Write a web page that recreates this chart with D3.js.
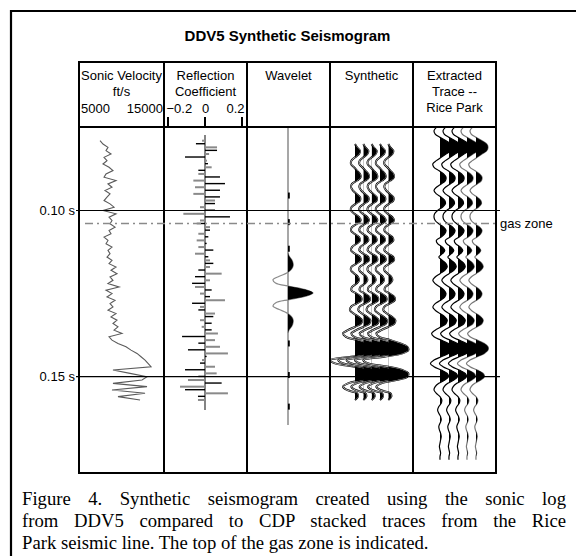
<!DOCTYPE html>
<html>
<head>
<meta charset="utf-8">
<title>DDV5 Synthetic Seismogram</title>
<script src="https://cdn.jsdelivr.net/npm/d3@7/dist/d3.min.js"></script>
<style>
  body { margin: 0; background: #fff; }
  text { font-family: Arial, "Liberation Sans", sans-serif; fill: #000; }
  .caption { font-family: "Times New Roman", "Liberation Serif", serif; }
</style>
</head>
<body>
<svg width="576" height="556"></svg>
<script>
// ---- data ----
const headers = [
  ['Sonic Velocity', 'ft/s'],
  ['Reflection', 'Coefficient'],
  ['Wavelet'],
  ['Synthetic'],
  ['Extracted', 'Trace --', 'Rice Park']
];
const velTicks = [5000, 15000];
const rcTicks = [-0.2, 0, 0.2];
const timeTicks = [100, 150];          // ms
const timeLabels = ['0.10 s', '0.15 s'];
const gasZoneMs = 103.9;

// sonic velocity (ft/s), one sample per ms from 79 ms
const velStart = 79;
const velocity = [7320, 7680, 8290, 8050, 8660, 7810, 8170, 7680, 8420, 8900,
  8050, 7810, 9270, 8290, 8780, 7930, 8540, 8170, 7810, 8540,
  9030, 7680, 9270, 8420, 8780, 8540, 9150, 8420, 8660, 7810,
  8290, 8050, 8780, 8290, 8540, 8170, 8780, 8420, 9270, 8660,
  9390, 8540, 8900, 8290, 9640, 8050, 8780, 8170, 9150, 8540,
  8900, 8290, 9270, 8660, 9390, 8900, 9510, 9030, 10000, 8420,
  8780, 9510, 10490, 11100, 11830, 12320, 12810, 13170, 13540, 8900,
  10980, 13050, 12440, 8900, 13050, 8780, 12810, 9510, 12200];

// reflection coefficients, one per ms from 79 ms
const rcStart = 79;
const rc = [-0.016, -0.049, 0.065, 0.065, 0.022, -0.108, 0.011, 0.016, 0.036, -0.036,
  -0.036, 0.081, -0.063, 0.108, -0.054, 0.081, -0.063, 0.081, 0.054, 0.054,
  -0.027, 0.054, -0.117, 0.135, -0.027, -0.045, 0.027, 0.027, -0.036, 0.018,
  -0.045, 0.009, -0.036, 0.045, -0.054, 0.018, 0.027, 0.045, 0.027, -0.036,
  0.09, -0.054, 0.027, -0.07, -0.054, 0.036, -0.027, 0.027, 0.108, -0.07,
  -0.027, -0.036, 0.054, 0.045, -0.027, 0.036, -0.018, 0.036, 0.07, -0.124,
  0.054, -0.036, 0.081, -0.092, 0.124, 0.009, -0.016, -0.027, 0.054, -0.108,
  0.063, -0.036, -0.092, 0.09, -0.135, -0.108, 0.124, -0.038, -0.038];

// wavelet, one per ms, centred on wavCentre
const wavCentre = 124.8;
const wavStart = -12;
const wavelet = [0, 0.05, 0.15, 0.2, 0.2, 0.12, -0.05, -0.35, -0.6, -0.5, 0.05, 0.7, 1,
  0.7, 0.05, -0.5, -0.6, -0.35, -0.05, 0.12, 0.2, 0.2, 0.15, 0.05, 0];
// tiny positive ripples of the wavelet tail (ms)
const wavTailMs = [95.5, 103.5, 111.5, 140, 149.5, 159];

// synthetic trace, one per ms from 80 ms
const synStart = 80;
const synthetic = [0, 0.1, 0.25, 0.2, 0, -0.18, -0.2, -0.05, 0.1, 0.25,
  0.28, 0.1, -0.15, -0.2, -0.1, 0.08, 0.25, 0.25, 0.03, -0.18,
  -0.2, -0.03, 0.2, 0.28, 0.1, -0.15, -0.2, -0.03, 0.2, 0.25,
  0.07, -0.15, -0.2, 0, 0.25, 0.28, 0.07, -0.18, -0.2, -0.03,
  0.15, 0.2, 0.07, -0.15, -0.18, 0.07, 0.3, 0.32, 0.07, -0.2,
  -0.25, -0.07, 0.18, 0.35, 0.3, 0, -0.35, -0.6, -0.45, 0.1,
  0.6, 0.95, 1.0, 0.7, -0.2, -1.25, -1.0, 0, 0.7, 1.0,
  0.95, 0.4, -0.35, -0.6, -0.4, 0.1, 0.15, 0];

// extracted trace (Rice Park), one per ms from 75 ms
const extStart = 75;
const extracted = [-0.3, -0.5, -0.4, 0, 0.5, 0.9, 1.0, 0.9, 0.5, 0.1,
  -0.3, -0.6, -0.5, -0.1, 0.3, 0.5, 0.45, 0.1, -0.3, -0.5,
  -0.3, 0.1, 0.4, 0.45, 0.2, -0.2, -0.45, -0.5, -0.4, -0.1,
  0.3, 0.5, 0.4, 0.1, -0.3, -0.2, 0.2, 0.4, 0.2, -0.1,
  0.2, 0.5, 0.6, 0.4, 0, -0.4, -0.6, -0.4, 0, 0.35,
  0.5, 0.4, 0.05, -0.4, -0.6, -0.4, 0, 0.4, 0.6, 0.5,
  0.1, -0.4, -0.7, -0.5, 0.1, 0.7, 1.0, 1.0, 0.7, 0.1,
  -0.5, -0.8, -0.5, 0.1, 0.6, 0.7, 0.4, -0.1, -0.4, -0.5,
  -0.3, 0, 0.15, 0.1, -0.1, -0.2, -0.1, 0.05, 0.1, 0,
  -0.1, -0.05, 0.05, 0.1, 0.05, 0, -0.05, 0, 0.05, 0, 0];

const captionLines = [
  'Figure 4. Synthetic seismogram created using the sonic log',
  'from DDV5 compared to CDP stacked traces from the Rice',
  'Park seismic line. The top of the gas zone is indicated.'
];

// ---- layout ----
const colEdges = [79, 164, 247, 330, 413, 496];
const tableTop = 62, headBottom = 127, tableBottom = 473;

const svg = d3.select('svg');
svg.append('rect').attr('width', 576).attr('height', 556).attr('fill', 'white');

// outer frame
svg.append('path')
  .attr('d', 'M11,560 L11,11 L580,11')
  .attr('fill', 'none').attr('stroke', 'black').attr('stroke-width', 2.2);

svg.append('text')
  .attr('x', 287.5).attr('y', 41)
  .attr('text-anchor', 'middle')
  .style('font-size', '15px').style('font-weight', 'bold')
  .text('DDV5 Synthetic Seismogram');

const y = d3.scaleLinear().domain([100, 150]).range([210.5, 376.7]);
const vx = d3.scaleLinear().domain([5000, 15000]).range([81, 163]);
const rx = d3.scaleLinear().domain([-0.2, 0.2]).range([168, 242]);
const wAmp = d3.scaleLinear().domain([0, 1]).range([0, 25]);
const sAmp = d3.scaleLinear().domain([0, 1]).range([0, 20]);
const eAmp = d3.scaleLinear().domain([0, 1]).range([0, 12]);

// header text
headers.forEach((lines, c) => {
  const cx = (colEdges[c] + colEdges[c + 1]) / 2;
  lines.forEach((s, k) => {
    svg.append('text')
      .attr('x', cx).attr('y', 80 + k * 16)
      .attr('text-anchor', 'middle')
      .style('font-size', '13px')
      .text(s);
  });
});

// velocity scale labels
svg.append('text').attr('x', vx(velTicks[0])).attr('y', 113)
  .style('font-size', '13px').text(velTicks[0]);
svg.append('text').attr('x', vx(velTicks[1])).attr('y', 113)
  .attr('text-anchor', 'end').style('font-size', '13px').text(velTicks[1]);

// rc axis
const rcAxis = d3.axisBottom(rx).tickValues(rcTicks).tickSize(0)
  .tickFormat(d => d === 0 ? '0' : d3.format('.1f')(d));
const rcAxisG = svg.append('g').attr('transform', 'translate(0,113)').call(rcAxis);
rcAxisG.select('.domain').remove();
rcAxisG.selectAll('text').attr('dy', 0).attr('y', 0).style('font-size', '13px')
  .style('font-family', 'Arial, "Liberation Sans", sans-serif')
  .attr('text-anchor', (d, i) => i === 0 ? 'start' : (i === 2 ? 'end' : 'middle'))
  .attr('dx', (d, i) => i === 0 ? -2 : (i === 2 ? 2 : 0));
svg.selectAll('.rctick').data(rcTicks).join('line')
  .attr('x1', d => rx(d)).attr('x2', d => rx(d))
  .attr('y1', 117).attr('y2', headBottom)
  .attr('stroke', 'black').attr('stroke-width', 2);

// ---- sonic velocity log ----
const velPts = velocity.map((v, i) => [vx(v), y(velStart + i)]);
svg.append('path')
  .attr('d', d3.line()(velPts))
  .attr('fill', 'none').attr('stroke', '#5a5a5a').attr('stroke-width', 1.1);

// ---- reflection coefficients ----
svg.append('line')
  .attr('x1', rx(0)).attr('x2', rx(0))
  .attr('y1', 135).attr('y2', 410)
  .attr('stroke', '#333').attr('stroke-width', 1.2);
svg.selectAll('.rcbar').data(rc).join('rect')
  .attr('x', d => Math.min(rx(0), rx(d)))
  .attr('width', d => Math.abs(rx(d) - rx(0)))
  .attr('y', (d, i) => y(rcStart + i) - 1)
  .attr('height', (d, i) => i % 2 ? 1.4 : 2)
  .attr('fill', (d, i) => i % 2 ? '#000' : '#8a8a8a');

// ---- traces ----
function drawTrace(values, startMs, base, amp, color, id, halo) {
  const pts = values.map((v, i) => [base + amp(v), y(startMs + i)]);
  const g = svg.append('g');
  g.append('clipPath').attr('id', id).append('rect')
    .attr('x', base).attr('y', 0).attr('width', 140).attr('height', 556);
  const line = d3.line().curve(d3.curveCatmullRom);
  const area = d3.area().y(d => d[1]).x0(base).x1(d => d[0]).curve(d3.curveCatmullRom);
  if (halo) {
    g.append('path').attr('d', line(pts)).attr('fill', 'none')
      .attr('stroke', color).attr('stroke-width', 2);
    g.append('path').attr('d', line(pts)).attr('fill', 'none')
      .attr('stroke', 'white').attr('stroke-width', 0.7);
  } else {
    g.append('path').attr('d', line(pts)).attr('fill', 'none')
      .attr('stroke', color).attr('stroke-width', 1.2);
  }
  g.append('path').attr('d', area(pts)).attr('fill', 'black')
    .attr('clip-path', `url(#${id})`);
}

// wavelet
svg.append('line')
  .attr('x1', 288).attr('x2', 288).attr('y1', headBottom).attr('y2', 425)
  .attr('stroke', '#8a8a8a').attr('stroke-width', 1.5);
svg.selectAll('.wtail').data(wavTailMs).join('rect')
  .attr('x', 288).attr('width', 1.8)
  .attr('y', d => y(d) - 3).attr('height', 6)
  .attr('fill', 'black');
drawTrace(wavelet, wavCentre + wavStart, 288, wAmp, '#8a8a8a', 'clipw', false);

// synthetic, 5 identical traces
d3.range(5).forEach(i => {
  drawTrace(synthetic, synStart, 355 + 8.33 * i, sAmp, '#000', 'clips' + i, true);
});

// extracted traces
const extColors = ['#000', '#000', '#000', '#777', '#777'];
d3.range(5).forEach(i => {
  drawTrace(extracted, extStart, 440 + 9 * i, eAmp, extColors[i], 'clipe' + i, false);
});

// ---- table grid ----
colEdges.forEach(x => {
  svg.append('line').attr('x1', x).attr('x2', x)
    .attr('y1', tableTop - 1).attr('y2', tableBottom + 1)
    .attr('stroke', 'black').attr('stroke-width', 2);
});
[tableTop, headBottom, tableBottom].forEach(yy => {
  svg.append('line').attr('x1', colEdges[0] - 1).attr('x2', colEdges[5] + 1)
    .attr('y1', yy).attr('y2', yy)
    .attr('stroke', 'black').attr('stroke-width', 2);
});

// time lines
timeTicks.forEach((t, i) => {
  svg.append('line').attr('x1', 76).attr('x2', 500)
    .attr('y1', y(t)).attr('y2', y(t))
    .attr('stroke', 'black').attr('stroke-width', 1.2);
  svg.append('text').attr('x', 75).attr('y', y(t) + 4.5)
    .attr('text-anchor', 'end').style('font-size', '13px')
    .text(timeLabels[i]);
});

// gas zone
svg.append('line').attr('x1', 85).attr('x2', 497)
  .attr('y1', y(gasZoneMs)).attr('y2', y(gasZoneMs))
  .attr('stroke', '#8a8a8a').attr('stroke-width', 1.5)
  .attr('stroke-dasharray', '8,4,2,4');
svg.append('text').attr('x', 500).attr('y', y(gasZoneMs) + 4.5)
  .style('font-size', '13px').text('gas zone');

// caption, first two lines justified by word spacing
const captionRight = 566;
captionLines.forEach((s, i) => {
  const t = svg.append('text').attr('class', 'caption')
    .attr('x', 22).attr('y', 505 + i * 22)
    .style('font-size', '18.7px')
    .text(s);
  if (i < 2) {
    const natural = t.node().getComputedTextLength();
    const gaps = s.split(' ').length - 1;
    t.style('word-spacing', ((captionRight - 22 - natural) / gaps) + 'px');
  }
});
</script>
</body>
</html>
